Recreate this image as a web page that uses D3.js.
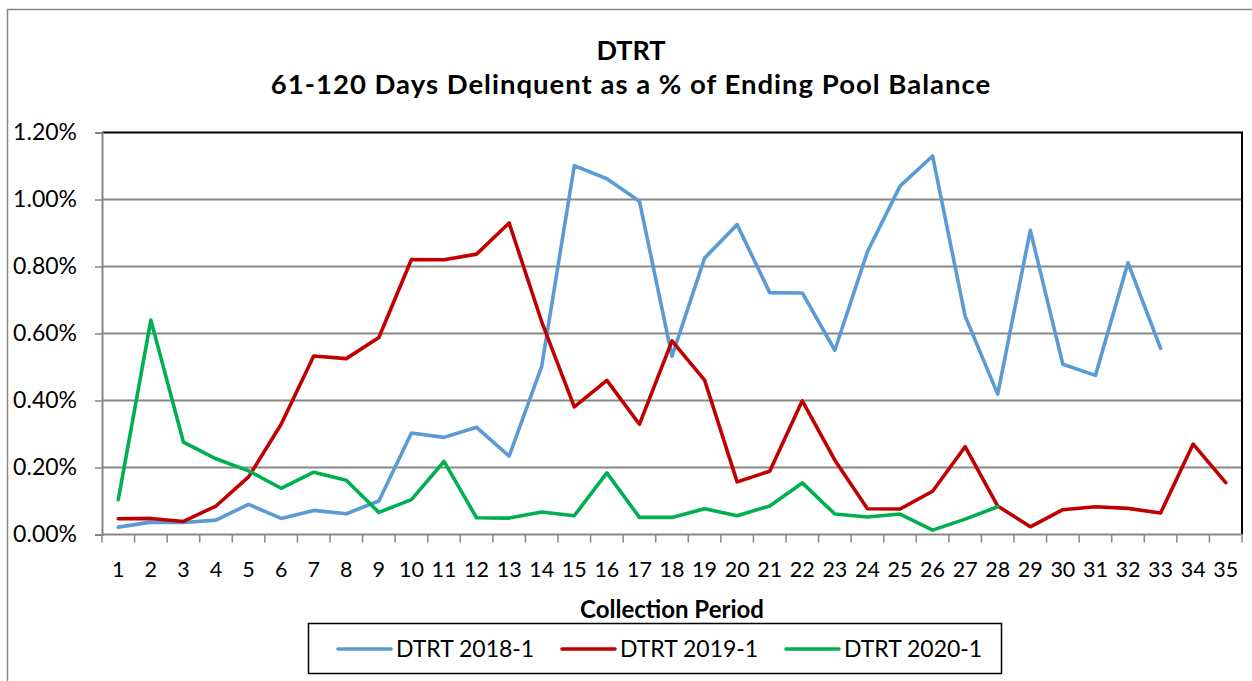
<!DOCTYPE html>
<html>
<head>
<meta charset="utf-8">
<script src="https://cdn.jsdelivr.net/npm/d3@7"></script>
<style>
  body { margin: 0; background: #fff; }
  svg { display: block; font-family: Lato, "Open Sans", sans-serif; }
</style>
</head>
<body>
<div id="wrapper"></div>
<script>
// data (values in %)
const periods = d3.range(1, 36)
const seriesNames = ["DTRT 2018-1", "DTRT 2019-1", "DTRT 2020-1"]
const seriesColors = ["#5b9bd5", "#c00000", "#00b050"]
const yTicks = [0, 0.2, 0.4, 0.6, 0.8, 1.0, 1.2]

const dtrt2018 = [0.022, 0.037, 0.036, 0.043, 0.090, 0.048, 0.072, 0.062, 0.100, 0.303,
  0.290, 0.320, 0.234, 0.502, 1.101, 1.062, 0.995, 0.532, 0.825, 0.925,
  0.722, 0.721, 0.550, 0.844, 1.040, 1.130, 0.652, 0.419, 0.908, 0.508,
  0.475, 0.811, 0.556]
const dtrt2019 = [0.047, 0.048, 0.039, 0.085, 0.172, 0.329, 0.533, 0.525, 0.588, 0.821,
  0.820, 0.837, 0.930, 0.635, 0.381, 0.460, 0.329, 0.578, 0.461, 0.157,
  0.189, 0.399, 0.222, 0.077, 0.076, 0.129, 0.262, 0.085, 0.023, 0.074,
  0.083, 0.078, 0.064, 0.270, 0.155]
const dtrt2020 = [0.104, 0.640, 0.276, 0.226, 0.190, 0.138, 0.186, 0.162, 0.066, 0.104,
  0.218, 0.050, 0.049, 0.067, 0.056, 0.184, 0.051, 0.051, 0.077, 0.056,
  0.085, 0.154, 0.061, 0.052, 0.061, 0.013, 0.046, 0.083]

function drawChart() {
  const width = 1252, height = 681
  const plot = { left: 102, right: 1242, top: 132.5, bottom: 534.5 }

  const svg = d3.select("#wrapper").append("svg")
      .attr("width", width)
      .attr("height", height)

  // outer chart border
  svg.append("rect")
      .attr("x", 7.5).attr("y", 9.5)
      .attr("width", 1260).attr("height", 700)
      .attr("fill", "none")
      .attr("stroke", "#868686")
      .attr("stroke-width", 1.5)

  // scales
  const x = d3.scaleBand().domain(periods).range([plot.left, plot.right])
  const y = d3.scaleLinear().domain([0, 1.2]).range([plot.bottom, plot.top])

  // gridlines
  svg.append("g").selectAll("line")
    .data(yTicks.slice(1, -1))
    .join("line")
      .attr("x1", plot.left).attr("x2", plot.right)
      .attr("y1", d => y(d)).attr("y2", d => y(d))
      .attr("stroke", "#878787")
      .attr("stroke-width", 1.8)

  // plot area top / right border
  svg.append("path")
      .attr("d", `M${plot.left},${plot.top}H${plot.right}V${plot.bottom}`)
      .attr("fill", "none")
      .attr("stroke", "#000")
      .attr("stroke-width", 2)

  // y axis
  const yAxis = svg.append("g")
      .attr("transform", `translate(${plot.left},0)`)
      .call(d3.axisLeft(y).tickValues(yTicks).tickFormat(d => d.toFixed(2) + "%")
        .tickSize(7).tickPadding(18))
  yAxis.select(".domain").attr("stroke", "#868686").attr("stroke-width", 2)
  yAxis.selectAll(".tick line").attr("stroke", "#868686").attr("stroke-width", 1.5)
  yAxis.selectAll(".tick text")
      .attr("fill", "#000")
      .style("font-size", "23px")
      .style("font-family", "Lato, sans-serif")

  // x axis: ticks between categories
  const xAxis = svg.append("g")
      .attr("transform", `translate(0,${plot.bottom})`)
  xAxis.append("line")
      .attr("x1", plot.left).attr("x2", plot.right)
      .attr("stroke", "#868686").attr("stroke-width", 2)
  xAxis.selectAll(".tk")
    .data(periods.concat([36]))
    .join("line")
      .attr("class", "tk")
      .attr("x1", d => d <= 35 ? x(d) : plot.right)
      .attr("x2", d => d <= 35 ? x(d) : plot.right)
      .attr("y1", 0).attr("y2", 8)
      .attr("stroke", "#868686").attr("stroke-width", 1.5)
  xAxis.selectAll("text")
    .data(periods)
    .join("text")
      .attr("x", d => x(d) + x.bandwidth() / 2)
      .attr("y", 42)
      .attr("text-anchor", "middle")
      .style("font-size", "21.5px")
      .text(d => d)

  // series lines
  const line = d3.line()
      .x((d, i) => x(periods[i]) + x.bandwidth() / 2)
      .y(d => y(d))

  const allSeries = [dtrt2018, dtrt2019, dtrt2020]
  svg.append("g").selectAll("path")
    .data(allSeries)
    .join("path")
      .attr("d", d => line(d))
      .attr("fill", "none")
      .attr("stroke", (d, i) => seriesColors[i])
      .attr("stroke-width", 3.6)
      .attr("stroke-linejoin", "round")
      .attr("stroke-linecap", "round")

  // titles
  svg.append("text")
      .attr("x", 631).attr("y", 60)
      .attr("text-anchor", "middle")
      .style("font-size", "27px").style("font-weight", "bold")
      .text("DTRT")
  svg.append("text")
      .attr("x", 631).attr("y", 94)
      .attr("text-anchor", "middle")
      .style("font-size", "27.5px").style("font-weight", "bold")
      .style("letter-spacing", "1px")
      .text("61-120 Days Delinquent as a % of Ending Pool Balance")

  svg.append("text")
      .attr("x", 672).attr("y", 618)
      .attr("text-anchor", "middle")
      .style("font-size", "24px").style("font-weight", "bold")
      .text("Collection Period")

  // legend
  const legend = svg.append("g")
  legend.append("rect")
      .attr("x", 308.5).attr("y", 623.5)
      .attr("width", 693).attr("height", 50)
      .attr("fill", "#fff")
      .attr("stroke", "#000").attr("stroke-width", 1.5)

  const item = legend.selectAll(".item")
    .data(seriesNames)
    .join("g")
      .attr("class", "item")
      .attr("transform", (d, i) => `translate(${338 + i * 224},649)`)
  item.append("line")
      .attr("x1", 0).attr("x2", 53)
      .attr("stroke", (d, i) => seriesColors[i])
      .attr("stroke-width", 3.6)
      .attr("stroke-linecap", "round")
  item.append("text")
      .attr("x", 58).attr("y", 8)
      .style("font-size", "23px")
      .text(d => d)
}

drawChart()
</script>
</body>
</html>
